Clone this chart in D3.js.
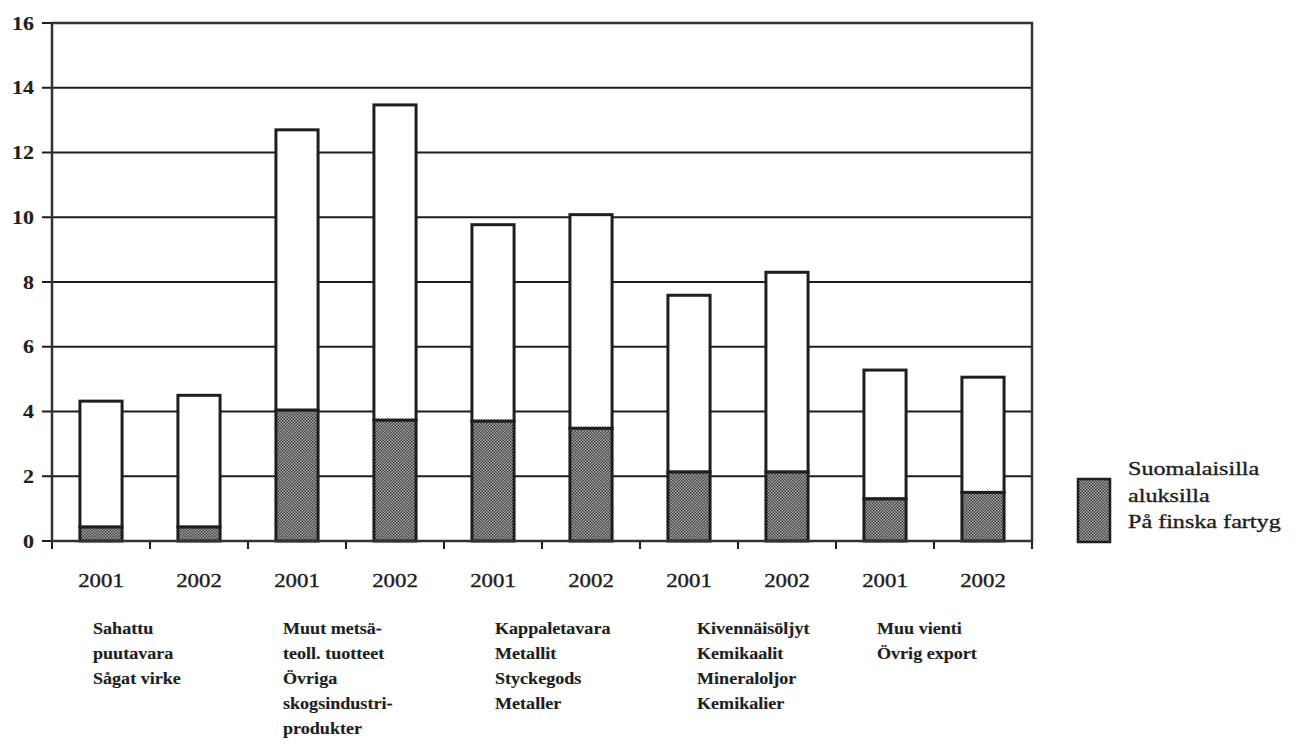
<!DOCTYPE html>
<html><head><meta charset="utf-8">
<script src="https://cdn.jsdelivr.net/npm/d3@7"></script>
<style>body{margin:0;background:#fff}</style>
</head><body>
<svg id="c" width="1296" height="745"></svg>
<script>
const bars = ["b1","b2","b3","b4","b5","b6","b7","b8","b9","b10"];
const years = ["2001","2002","2001","2002","2001","2002","2001","2002","2001","2002"];
const totals = [4.32, 4.5, 12.7, 13.47, 9.77, 10.08, 7.59, 8.3, 5.28, 5.06];
const finnish = [0.43, 0.43, 4.04, 3.73, 3.7, 3.48, 2.13, 2.13, 1.3, 1.5];
const groupLabels = [
  ["Sahattu","puutavara","Sågat virke"],
  ["Muut metsä-","teoll. tuotteet","Övriga","skogsindustri-","produkter"],
  ["Kappaletavara","Metallit","Styckegods","Metaller"],
  ["Kivennäisöljyt","Kemikaalit","Mineraloljor","Kemikalier"],
  ["Muu vienti","Övrig export"]
];
const yTicks = [0,2,4,6,8,10,12,14,16];
const legendLines = ["Suomalaisilla","aluksilla","På finska fartyg"];

const svg = d3.select("#c");
const X0 = 52, X1 = 1032, Y0 = 23, Y1 = 541;
const font = "'Liberation Serif','Times New Roman',serif";
const ink = "#1e1e1e";

const defs = svg.append("defs");
const pat = defs.append("pattern").attr("id","dots").attr("patternUnits","userSpaceOnUse")
  .attr("width",3).attr("height",3);
pat.append("rect").attr("width",3).attr("height",3).attr("fill","#b0b0b0");
pat.append("rect").attr("x",0).attr("y",0).attr("width",1.5).attr("height",1.5).attr("fill","#363636");
pat.append("rect").attr("x",1.5).attr("y",1.5).attr("width",1.5).attr("height",1.5).attr("fill","#363636");

const pi = 0.57;
const x = d3.scaleBand().domain(bars).range([X0, X1]).paddingInner(pi).paddingOuter(pi/2);
const y = d3.scaleLinear().domain([0,16]).range([Y1, Y0]);
const gap = (x.step() - x.bandwidth())/2;

function stext(g, tx, ty, str, size, anchor, weight, sx){
  return g.append("text").attr("transform", `translate(${tx},${ty}) scale(${sx||1.27},1)`)
    .attr("text-anchor", anchor || "start").attr("font-family", font)
    .attr("font-size", size).attr("font-weight", weight || "normal")
    .attr("fill", ink).attr("stroke", ink).attr("stroke-width", weight==="bold" ? 0.15 : 0.35)
    .text(str);
}

// gridlines
svg.append("g").selectAll("line").data(yTicks.filter(d=>d>0 && d<16)).join("line")
  .attr("x1",X0).attr("x2",X1).attr("y1",d=>y(d)).attr("y2",d=>y(d))
  .attr("stroke",ink).attr("stroke-width",2);

// y axis ticks + labels
const ya = svg.append("g");
ya.selectAll("line").data(yTicks).join("line")
  .attr("x1",X0-10).attr("x2",X0).attr("y1",d=>y(d)).attr("y2",d=>y(d))
  .attr("stroke",ink).attr("stroke-width",2);
yTicks.forEach(t => stext(ya, X0-18, y(t)+6.5, String(t), 18, "end", "bold", 1.22));

// x ticks at band boundaries
const bounds = bars.slice(1).map(b => x(b) - gap).concat([X0, X1]);
svg.append("g").selectAll("line").data(bounds).join("line")
  .attr("x1",d=>d).attr("x2",d=>d).attr("y1",Y1).attr("y2",Y1+8)
  .attr("stroke",ink).attr("stroke-width",2);

// bars
const bg = svg.append("g");
bars.forEach((b,i) => {
  bg.append("rect").attr("x",x(b)).attr("width",x.bandwidth())
    .attr("y",y(totals[i])).attr("height",y(finnish[i]) - y(totals[i]))
    .attr("fill","#fff").attr("stroke",ink).attr("stroke-width",3);
  bg.append("rect").attr("x",x(b)).attr("width",x.bandwidth())
    .attr("y",y(finnish[i])).attr("height",y(0) - y(finnish[i]))
    .attr("fill","url(#dots)").attr("stroke",ink).attr("stroke-width",3);
});

// frame
svg.append("rect").attr("x",X0).attr("y",Y0).attr("width",X1-X0).attr("height",Y1-Y0)
  .attr("fill","none").attr("stroke","#333").attr("stroke-width",2.5);

// year labels
const yl = svg.append("g");
bars.forEach((b,i) => stext(yl, x(b)+x.bandwidth()/2, 587, years[i], 18, "middle"));

// group labels
const gl = svg.append("g");
const groupX = [93, 283, 495, 697, 877];
groupLabels.forEach((lines,gi) => {
  lines.forEach((ln,li) => stext(gl, groupX[gi], 634 + li*25, ln, 16, "start", "bold", 1.13));
});

// legend
const lg = svg.append("g");
lg.append("rect").attr("x",1078).attr("y",479).attr("width",32).attr("height",63)
  .attr("fill","url(#dots)").attr("stroke",ink).attr("stroke-width",2.5);
legendLines.forEach((t,i) => stext(lg, 1128, 475 + i*26.5, t, 19, "start"));
</script>
</body></html>
